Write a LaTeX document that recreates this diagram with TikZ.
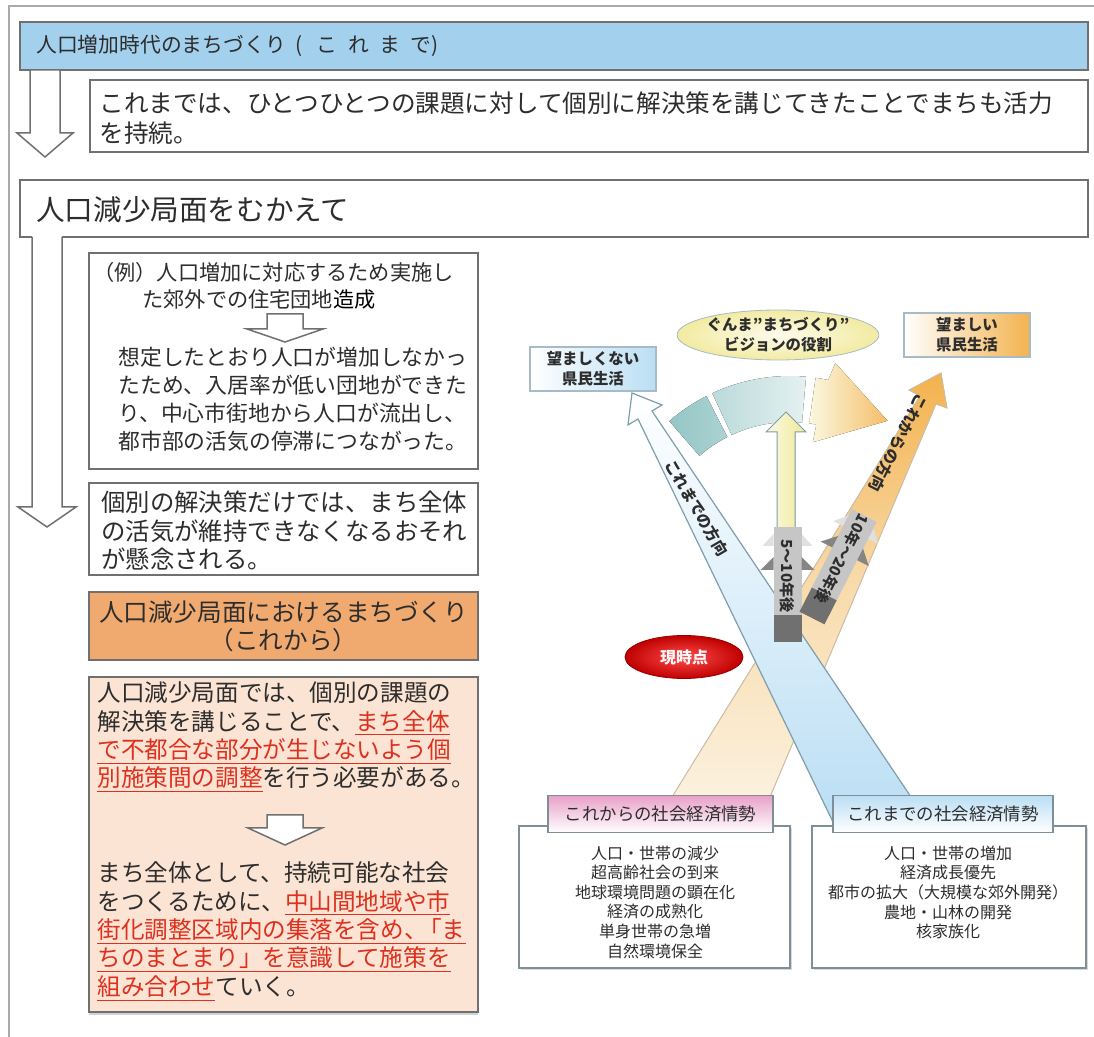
\documentclass[tikz,border=0pt]{standalone}
\usepackage{fontspec}
\setmainfont{Noto Sans CJK JP}
\usetikzlibrary{shapes.geometric,positioning,shadows}
\definecolor{waku}{RGB}{170,170,170}
\definecolor{sen}{RGB}{112,112,112}
\definecolor{moji}{RGB}{45,45,45}
\definecolor{aka}{RGB}{222,48,30}
\definecolor{sora}{RGB}{163,208,236}
\definecolor{daidai}{RGB}{240,170,112}
\definecolor{usudaidai}{RGB}{252,228,212}
\definecolor{aoobi}{RGB}{186,222,244}
\definecolor{aosen}{RGB}{128,158,172}
\definecolor{kiiro}{RGB}{238,228,130}
\definecolor{orenji}{RGB}{243,178,78}
\definecolor{kurimu}{RGB}{251,241,222}
\definecolor{cha}{RGB}{205,190,165}
\definecolor{midori}{RGB}{150,198,198}
\definecolor{momo}{RGB}{232,160,200}
\definecolor{haiiro}{RGB}{198,198,198}
\definecolor{koihai}{RGB}{112,112,112}
\definecolor{hakosen}{RGB}{128,142,152}
\tikzset{
  box/.style={draw=sen, line width=0.75pt},
  txt/.style={inner sep=0pt, text=moji, align=left},
  rtxt/.style={inner sep=0pt, text=moji, align=center, font=\fontsize{7.7}{10}\selectfont\bfseries},
  rbox/.style={draw=aosen!70, line width=0.6pt, minimum width=63pt, minimum height=22pt, rtxt},
  lbl/.style={draw=hakosen, line width=0.6pt, minimum width=#1, minimum height=18.5pt, inner sep=0pt, text=moji, font=\fontsize{8.7}{10}\selectfont},
  shade box/.style={draw=hakosen, line width=1pt, fill=white, drop shadow={shadow xshift=1pt, shadow yshift=-1pt, opacity=0.3}}
}
\newcommand{\hollow}[7][]{\filldraw[box, fill=white] (#2,#4) -- (#2,#5) -- ({#2-#7},#5) -- ({(#2+#3)/2},#6) -- ({#3+#7},#5) -- (#3,#5) -- (#3,#4) #1}
\newcommand{\hl}[1]{\textcolor{aka}{\underline{#1}}}
\newcommand{\grayarrow}[5]{
  \begin{scope}[shift={(#1,#2)}, rotate=#3]
    \fill[haiiro!55] (-14,-96) -- (-25,-96) -- (-14,-108) -- cycle;
    \fill[haiiro!55] (14,-96) -- (25,-96) -- (14,-108) -- cycle;
    \fill[haiiro] (-14,-115) rectangle (14,-27);
    \fill[koihai] (-14,-27) rectangle (14,0);
    \fill[koihai!85] (-14,-72) -- (-27,-72) -- (-14,-85) -- cycle;
    \fill[koihai!85] (14,-72) -- (27,-72) -- (14,-85) -- cycle;
    \node[rtxt, font=\fontsize{7.6}{10}\selectfont\bfseries, rotate=#3-90] (#4) at (0,-66) {#5};
  \end{scope}}

\begin{document}
\begin{tikzpicture}[x=0.5pt,y=-0.5pt]
\useasboundingbox (0,0) rectangle (1094,1037);
%Frame
	\draw[waku, line width=0.6pt] (9,1037) -- (9,6) -- (1094,6);
%Growth era
	\draw[box, fill=sora] (20,22) rectangle (1088,70);
	\node[txt, anchor=west, font=\fontsize{10.4}{12}\selectfont] (zoka) at (36,46) {人口増加時代のまちづくり\hspace{0.45em}(\hspace{0.7em}{\addfontfeature{LetterSpace=50}これまで})};
	\hollow[-- cycle]{30}{60}{70}{133}{157}{13};
	\draw[box] (90,80) rectangle (1088,152);
	\node[txt, anchor=west, font=\fontsize{12.3}{15}\selectfont] (koremade) at (99,118) {これまでは、ひとつひとつの課題に対して個別に解決策を講じてきたことでまちも活力\\を持続。};
%Decline
	\filldraw[box, fill=white] (32,237) -- (20,237) -- (20,180) -- (1088,180) -- (1088,237) -- (62,237);
	\node[txt, anchor=west, font=\fontsize{14.3}{16}\selectfont] (gensho) at (36,210) {人口減少局面をむかえて};
	\hollow{32}{62}{237}{507}{527}{14};
%Example
	\draw[box] (89,253) rectangle (478,469);
	\node[txt, anchor=west, font=\fontsize{10.6}{13}\selectfont] (rei) at (93,272) {（例）人口増加に対応するため実施し};
	\node[txt, anchor=west, font=\fontsize{10.6}{13}\selectfont] (danchi) at (142,300) {た郊外での住宅団地\textcolor{black}{造成}};
	\hollow[-- cycle]{267}{303}{314}{329}{342}{20};
	\node[txt, anchor=west, font=\fontsize{10.9}{14}\selectfont] (sotei) at (118,399) {想定したとおり人口が増加しなかっ\\たため、入居率が低い団地ができた\\り、中心市街地から人口が流出し、\\都市部の活気の停滞につながった。};
	\draw[box] (89,483) rectangle (478,575);
	\node[txt, anchor=west, font=\fontsize{12.2}{14.25}\selectfont] (kenen) at (101,531) {個別の解決策だけでは、まち全体\\の活気が維持できなくなるおそれ\\が懸念される。};
%From now on
	\draw[box, fill=daidai] (89,592) rectangle (478,660);
	\node[txt, align=center, font=\fontsize{12.3}{14}\selectfont] (korekara) at (283.5,626) {人口減少局面におけるまちづくり\\（これから）};
	\draw[box, fill=usudaidai, drop shadow={shadow xshift=0pt, shadow yshift=-1.5pt, opacity=0.35}] (89,677) rectangle (478,1012);
	\node[txt, anchor=west, font=\fontsize{11.8}{14.2}\selectfont] (chosei) at (97,737.5) {人口減少局面では、個別の課題の\\解決策を講じることで、\hl{まち全体}\\\hl{で不都合な部分が生じないよう個}\\\hl{別施策間の調整}を行う必要がある。};
	\hollow[-- cycle]{267}{303}{815}{828}{845}{19};
	\node[txt, anchor=west, font=\fontsize{11.8}{14.2}\selectfont] (matomari) at (97,931.5) {まち全体として、持続可能な社会\\をつくるために、\hl{中山間地域や市}\\\hl{街化調整区域内の集落を含め、\kern-0.4em「ま}\\\hl{ちのまとまり」を意識して施策を}\\\hl{組み合わせ}ていく。};
%Right: the way ahead
	\filldraw[draw=cha, line width=0.5pt, top color=orenji, bottom color=kurimu, middle color=orenji!35!kurimu] (941,373) -- (947,408) -- (936,404) -- (770,797) -- (672,797) -- (920,396) -- (909,390) -- cycle;
%Vision arc
	\begin{scope}[shift={(790,560)}]
		\fill[left color=midori, right color=midori!80!white] (-131:184) arc[start angle=-131, end angle=-117, radius=184] -- (-117:138) arc[start angle=-117, end angle=-131, radius=138] -- cycle;
		\fill[left color=midori!65!white, right color=midori!25!white] (-115:184) arc[start angle=-115, end angle=-85, radius=184] -- (-85:138) arc[start angle=-85, end angle=-115, radius=138] -- cycle;
		\fill[left color=kiiro!25!white, right color=orenji!85] (-82:184) arc[start angle=-82, end angle=-78, radius=184] -- (-77:202) -- (-55:170) -- (-79:120) -- (-79:138) arc[start angle=-79, end angle=-82, radius=138] -- cycle;
	\end{scope}
	\filldraw[draw=aosen, line width=0.5pt, left color=kiiro!20!white, right color=kiiro!85] (777,540) -- (777,432) -- (766,432) -- (786,412) -- (806,432) -- (795,432) -- (795,540) -- cycle;
%The way so far
	\filldraw[draw=aosen, line width=0.6pt, top color=white, bottom color=aoobi] (638,419) -- (628,425) -- (632,393) -- (662,405) -- (652,411) -- (911,797) -- (928,822) -- (833,822) -- cycle;
	\node[rtxt, rotate=-59.5] (koremadehoko) at (697,508) {これまでの方向};
	\node[rtxt, rotate=-117] (korekarahoko) at (898,443) {これからの方向};
%Years
	\grayarrow{787.5}{642}{0}{gonen}{5～10年後}
	\grayarrow{812}{618}{-27}{junen}{10年～20年後}
	\node[ellipse, draw=red!60!black, inner color=red!70, outer color=red!75!black, minimum width=59pt, minimum height=21.5pt, inner sep=0pt, text=white!88!pink, font=\fontsize{8}{10}\selectfont\bfseries] (genjiten) at (684,657) {現時点};
%Goals
	\node[rbox, left color=white, right color=aoobi] (nozomashikunai) at (593,369) {望ましくない\\県民生活};
	\node[ellipse, draw=aosen!70, inner color=kiiro!15!white, outer color=kiiro!75, minimum width=88pt, minimum height=25pt, rtxt] (vision) at (778,335) {ぐんま”まちづくり”\\ビジョンの役割};
	\node[rbox, left color=white, right color=orenji] (nozomashii) at (967,335) {望ましい\\県民生活};
%Conditions
	\draw[shade box] (519,826) rectangle (790,968);
	\draw[shade box] (812,826) rectangle (1086,968);
	\node[rtxt, font=\fontsize{8}{9.8}\selectfont] (korekarajosei) at (655,902) {人口・世帯の減少\\超高齢社会の到来\\地球環境問題の顕在化\\経済の成熟化\\単身世帯の急増\\自然環境保全};
	\node[rtxt, font=\fontsize{8}{9.8}\selectfont] (koremadejosei) at (948,892.5) {人口・世帯の増加\\経済成長優先\\都市の拡大（大規模な郊外開発）\\農地・山林の開発\\核家族化};
	\node[lbl=112.5pt, top color=momo, bottom color=white] (korekaralbl) at (660.5,814) {これからの社会経済情勢};
	\node[lbl=110pt, top color=aoobi, bottom color=white] (koremadelbl) at (943,814) {これまでの社会経済情勢};
\end{tikzpicture}
\end{document}
